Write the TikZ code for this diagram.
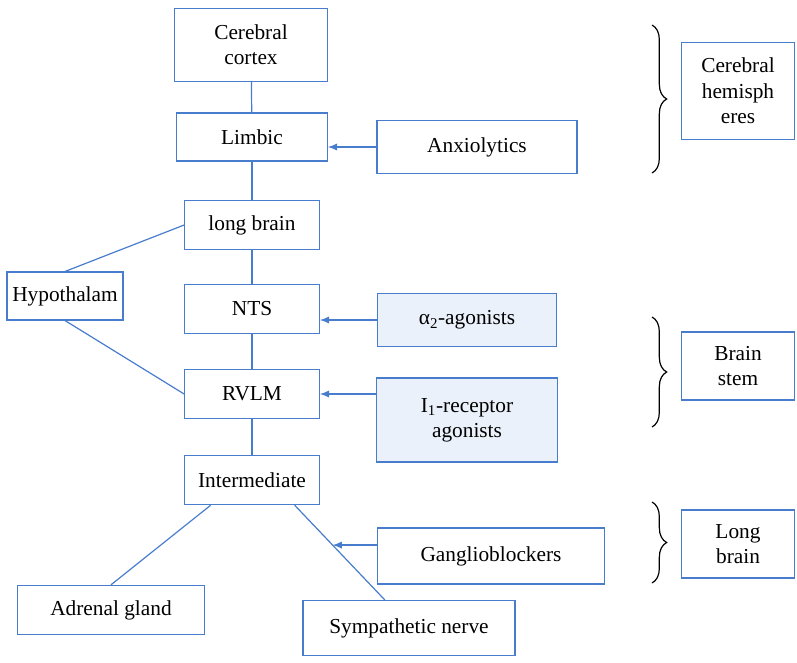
\documentclass[tikz,border=0pt]{standalone}
\usepackage{fontspec}
\setmainfont{Liberation Serif}
\usetikzlibrary{arrows.meta,calc,decorations.pathreplacing}

\definecolor{lnblue}{RGB}{72,124,204}
\definecolor{drugfill}{RGB}{234,241,250}

\tikzset{
  box/.style={draw=lnblue, line width=0.8pt, fill=white, align=center, inner sep=1pt,
    font=\fontsize{16}{19}\selectfont},
  drug/.style={box, fill=drugfill},
  link/.style={draw=lnblue, line width=0.9pt},
  act/.style={link, -{Latex[length=7pt,width=5.5pt]}},
  grp/.style={draw=black, line width=0.9pt, decorate, decoration={brace, amplitude=11pt}}
}

\begin{document}
\begin{tikzpicture}[x=0.75pt,y=0.75pt,yscale=-1,xscale=1]
\useasboundingbox (0,0) rectangle (797,662);

% Text Node
\node (cortex) at (251,45) [box, minimum width=115pt, minimum height=55pt] {Cerebral\\cortex};
% Text Node
\node (limbic) at (252,137) [box, minimum width=113pt, minimum height=36pt] {Limbic};
% Text Node
\node (anx) at (477,147) [box, minimum width=150pt, minimum height=40pt] {Anxiolytics};
% Text Node
\node (lbrain) at (252,225) [box, minimum width=101pt, minimum height=37pt] {long brain};
% Text Node
\node (hypo) at (65,296) [box, minimum width=87pt, minimum height=36pt] {Hypothalam};
% Text Node
\node (nts) at (252,309) [box, minimum width=101pt, minimum height=37pt] {NTS};
% Text Node
\node (alpha) at (467,320) [drug, minimum width=134pt, minimum height=40pt] {α\textsubscript{2}-agonists};
% Text Node
\node (rvlm) at (252,394) [box, minimum width=101pt, minimum height=37pt] {RVLM};
% Text Node
\node (irec) at (467,420) [drug, minimum width=136pt, minimum height=63pt] {I\textsubscript{1}-receptor\\agonists};
% Text Node
\node (intm) at (252,480) [box, minimum width=101pt, minimum height=37pt] {Intermediate};
% Text Node
\node (gangl) at (491,556) [box, minimum width=170pt, minimum height=42pt] {Ganglioblockers};
% Text Node
\node (adrenal) at (111,610) [box, minimum width=140pt, minimum height=37pt] {Adrenal gland};
% Text Node
\node (symp) at (409,628) [box, minimum width=159pt, minimum height=41pt] {Sympathetic nerve};

% Text Node
\node (hemi) at (738,91) [box, minimum width=85pt, minimum height=73pt] {Cerebral\\hemisph\\eres};
% Text Node
\node (stem) at (738,366) [box, minimum width=85pt, minimum height=51pt] {Brain\\stem};
% Text Node
\node (longb) at (738,544) [box, minimum width=85pt, minimum height=51pt] {Long\\brain};

%Straight Lines
\draw [link] (cortex) -- (limbic);
\draw [link] (limbic) -- (lbrain);
\draw [link] (lbrain) -- (nts);
\draw [link] (nts) -- (rvlm);
\draw [link] (rvlm) -- (intm);
\draw [link] (hypo.north) -- (lbrain.west);
\draw [link] (hypo.south) -- (rvlm.west);
\draw [link] ([xshift=-31pt]intm.south) -- (adrenal.north);
\draw [link] ([xshift=32pt]intm.south) -- ([xshift=-18pt]symp.north);
\coordinate (gtip) at ($([xshift=32pt]intm.south)!0.42!([xshift=-18pt]symp.north)$);

%Arrows
\draw [act] (anx.west) -- (anx.west -| limbic.east);
\draw [act] (alpha.west) -- (alpha.west -| nts.east);
\draw [act] (rvlm.east -| irec.west) -- (rvlm.east);
\draw [act] (gtip -| gangl.west) -- (gtip);

%Braces
\draw [grp] (652,25) -- (652,173);
\draw [grp] (652,317) -- (652,427);
\draw [grp] (652,502) -- (652,583);

\end{tikzpicture}
\end{document}
